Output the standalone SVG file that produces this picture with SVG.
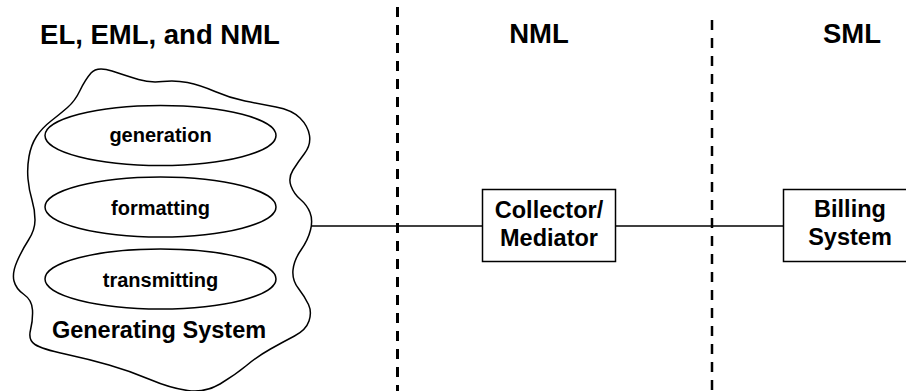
<svg xmlns="http://www.w3.org/2000/svg" width="906" height="391" viewBox="0 0 906 391">
<style>
text{font-family:"Liberation Sans",Arial,sans-serif;font-weight:bold;fill:#000;text-anchor:middle}
.title{font-size:27.5px}
.box{font-size:23.5px}
.oval{font-size:20px}
.shape{fill:#fff;stroke:#000;stroke-width:1.5}
.conn{stroke:#000;stroke-width:1.5;fill:none}
.sep{stroke:#000;fill:none;stroke-dasharray:10 8}
</style>
<rect width="906" height="391" fill="#fff"/>
<g id="separators">
<line class="sep" x1="397.5" y1="7" x2="397.5" y2="391" stroke-width="3"/>
<line class="sep" x1="712" y1="20" x2="712" y2="391" stroke-width="2.5"/>
</g>
<g id="titles">
<text class="title" x="160" y="44">EL, EML, and NML</text>
<text class="title" x="539" y="43">NML</text>
<text class="title" x="852" y="43">SML</text>
</g>
<g id="connectors">
<line class="conn" x1="311" y1="226" x2="482" y2="226"/>
<line class="conn" x1="616" y1="226" x2="783" y2="226"/>
</g>
<g id="generating-system">
<path class="shape" d="M 91,73 Q 97,66 112,71 Q 127,76 138.5,79.5 Q 150,83 162.5,81.5 Q 175,80 187.5,82.5 Q 200,85 215,91.5 Q 230,98 245,101 Q 260,104 276,107 Q 292,110 300,118 Q 308,126 309.5,135.5 Q 311,145 304.5,153.5 Q 298,162 293,170 Q 288,178 291,186 Q 294,194 300.5,199.5 Q 307,205 310,212.5 Q 313,220 310.5,230 Q 308,240 301,250 Q 294,260 293,270 Q 292,280 298.5,288.5 Q 305,297 308.5,304.5 Q 312,312 309,321 Q 306,330 294.5,336 Q 283,342 270.5,349 Q 258,356 246.5,365.5 Q 235,375 220,384 Q 205,393 187.5,390.5 Q 170,388 150,379.5 Q 130,371 109,365 Q 88,359 65,354 Q 42,349 35,344.5 Q 28,340 30.5,330 Q 33,320 32.5,310 Q 32,300 24,294.5 Q 16,289 14,281 Q 12,273 17,261.5 Q 22,250 28.5,240 Q 35,230 35,220 Q 35,210 32,200 Q 29,190 28,179 Q 27,168 29,156.5 Q 31,145 36.5,136.5 Q 42,128 51,121 Q 60,114 67.5,107.5 Q 75,101 80,90.5 Q 85,80 91,73 Z"/>
<text class="box" x="159" y="338">Generating System</text>
</g>
<g id="generation">
<ellipse class="shape" cx="160.5" cy="135.5" rx="115.5" ry="30"/>
<text class="oval" x="160.5" y="142">generation</text>
</g>
<g id="formatting">
<ellipse class="shape" cx="160.5" cy="207" rx="115.5" ry="30"/>
<text class="oval" x="160.5" y="214.5">formatting</text>
</g>
<g id="transmitting">
<ellipse class="shape" cx="160.5" cy="279" rx="115.5" ry="30"/>
<text class="oval" x="160.5" y="286.5">transmitting</text>
</g>
<g id="collector">
<rect class="shape" x="482.5" y="189.5" width="133" height="72"/>
<text class="box" x="549" y="218">Collector/</text>
<text class="box" x="549" y="246">Mediator</text>
</g>
<g id="billing">
<rect class="shape" x="783.5" y="189.5" width="130" height="72"/>
<text class="box" x="850" y="217">Billing</text>
<text class="box" x="850" y="245">System</text>
</g>
</svg>
